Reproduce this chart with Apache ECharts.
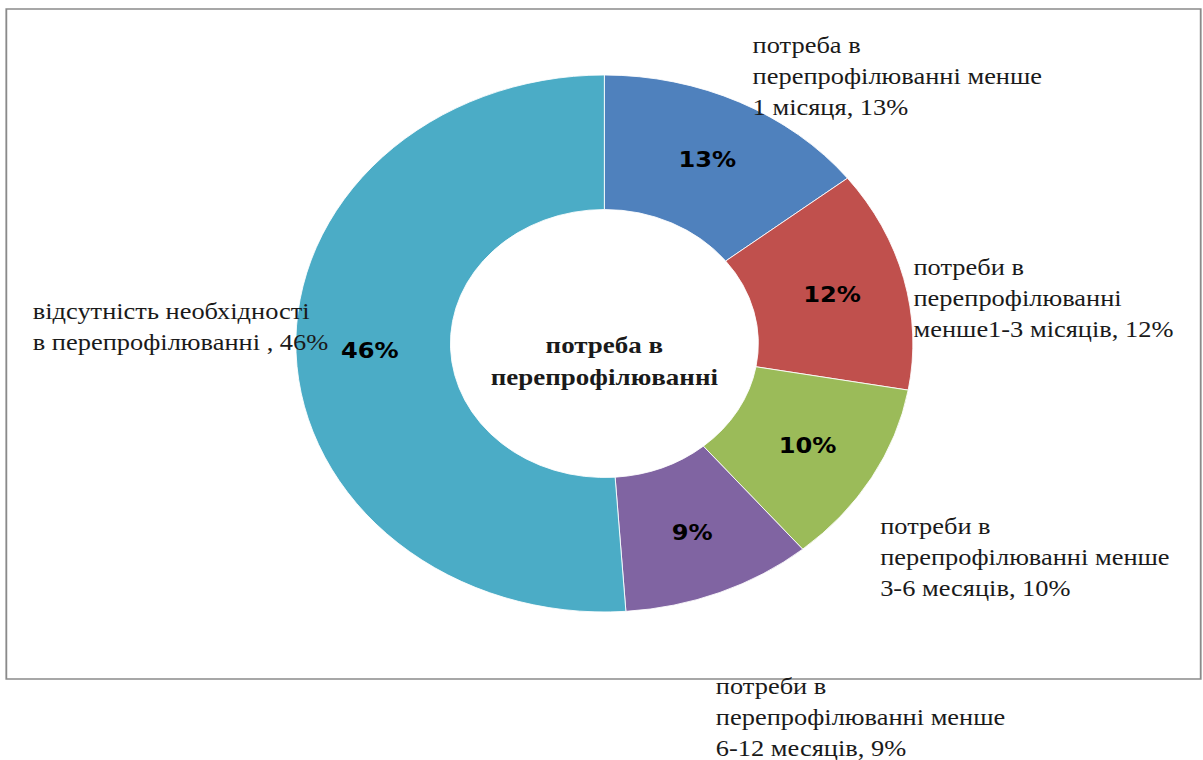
<!DOCTYPE html>
<html>
<head>
<meta charset="utf-8">
<script src="https://cdn.jsdelivr.net/npm/echarts@6/dist/echarts.min.js"></script>
<style>
  html, body { margin: 0; padding: 0; background: #ffffff; overflow: hidden; }
  #wrap { width: 1203px; height: 760px; position: relative; overflow: hidden; }
  /* the chart is laid out narrower and stretched horizontally to an oval donut */
  #chart { width: 1047px; height: 760px; transform: scaleX(1.149); transform-origin: 0 0; }
</style>
</head>
<body>
<div id="wrap"><div id="chart"></div></div>
<script>
// Categories (line breaks as they wrap in the callouts)
const categories = [
  'потреба в\nперепрофілюванні менше\n1 місяця',
  'потреби в\nперепрофілюванні\nменше1-3 місяців',
  'потреби в\nперепрофілюванні менше\n3-6 месяців',
  'потреби в\nперепрофілюванні менше\n6-12 месяців',
  'відсутність необхідності\nв перепрофілюванні '
];
// Shares, %
const values = [13, 12, 10, 9, 46];
const centerTitle = 'потреба в\nперепрофілюванні';

const colors = ['#4F81BD', '#C0504D', '#9BBB59', '#8064A2', '#4BACC6'];

// Callout anchor points (top-left of each text block, in chart units)
const calloutPos = [
  [655, 30],
  [795, 252],
  [766, 511],
  [623, 671],
  [28.5, 296]
];

const data = categories.map((name, i) => ({ name, value: values[i] }));
const serif = 'Liberation Serif';

const chart = echarts.init(document.getElementById('chart'), null, { renderer: 'svg' });
chart.setOption({
  animation: false,
  color: colors,
  title: {
    text: centerTitle,
    left: 526,
    top: 329,
    padding: 0,
    textAlign: 'center',
    textStyle: { fontFamily: serif, fontWeight: 'bold', fontSize: 23.5, lineHeight: 32, color: '#1a1a1a' }
  },
  graphic: [{
    type: 'rect',
    shape: { x: 5.5, y: 9, width: 1039.5, height: 670 },
    style: { fill: 'none', stroke: '#8a8a8a', lineWidth: 1.6 },
    silent: true
  }],
  series: [
    {
      type: 'pie',
      center: [526, 343.5],
      radius: [134, 268.5],
      startAngle: 90,
      clockwise: true,
      avoidLabelOverlap: false,
      data: data,
      itemStyle: { borderColor: '#ffffff', borderWidth: 0.8 },
      label: {
        position: 'inside',
        formatter: p => p.value + '%',
        fontFamily: 'DejaVu Sans',
        fontWeight: 900,
        fontSize: 21,
        color: '#000000'
      },
      labelLine: { show: false },
      emphasis: { disabled: true }
    },
    {
      type: 'pie',
      center: [526, 343.5],
      radius: [134, 268.5],
      startAngle: 90,
      clockwise: true,
      avoidLabelOverlap: false,
      silent: true,
      data: data,
      itemStyle: { color: 'transparent', borderWidth: 0 },
      label: {
        position: 'outside',
        formatter: p => p.name + ', ' + p.value + '%',
        fontFamily: serif,
        fontSize: 23,
        lineHeight: 31,
        color: '#1a1a1a',
        align: 'left'
      },
      labelLine: { show: false },
      labelLayout: p => ({
        x: calloutPos[p.dataIndex][0],
        y: calloutPos[p.dataIndex][1],
        align: 'left',
        verticalAlign: 'top'
      }),
      emphasis: { disabled: true }
    }
  ]
});
</script>
</body>
</html>
